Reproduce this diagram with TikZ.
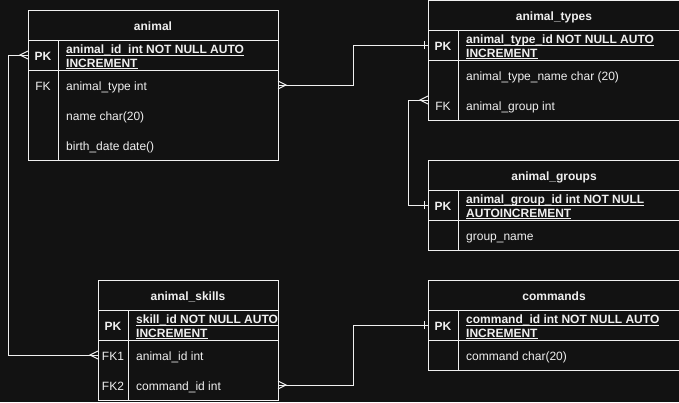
\documentclass[tikz,border=0pt,12pt]{standalone}
\usepackage{fontspec}
\setmainfont{Liberation Sans}
\usetikzlibrary{positioning}
\definecolor{bgcol}{HTML}{121212}
\definecolor{inkcol}{HTML}{F0F0F0}
\newcommand{\ulkey}[1]{\setbox0\hbox{#1}\rlap{\rule[-1.6pt]{\wd0}{0.7pt}}\box0}

\tikzset{
  tbox/.style={draw=inkcol, line width=1pt, fill=bgcol, minimum height=30pt,
    inner sep=0pt, outer sep=0pt},
  hdr/.style={tbox, text=inkcol, font=\bfseries, text height=11pt, text depth=0pt},
  row/.style={minimum height=30pt, inner sep=0pt, outer sep=0pt},
  keytxt/.style={text=inkcol, inner sep=0pt, text height=11pt, text depth=0pt},
  pktxt/.style={text=inkcol, font=\bfseries\fontsize{12}{13.4}\selectfont,
    align=left, anchor=west, inner sep=0pt, yshift=-2pt},
  fieldtxt/.style={text=inkcol, anchor=west, inner sep=0pt, text height=11pt, text depth=0pt},
  rel/.style={draw=inkcol, line width=1pt},
  crowfoot/.pic={\draw[rel] (0,-4) -- (8,0) -- (0,4);},
  onebar/.pic={\draw[rel] (4,-4) -- (4,4);},
}

\begin{document}
\begin{tikzpicture}[x=1pt, y=-1pt]
\fill[bgcol] (0,0) rectangle (679,402);
\useasboundingbox (0,0) rectangle (679,402);

% animal
\node[hdr, minimum width=250pt, anchor=north west] (animal) at (28,10) {animal};
\node[tbox, minimum width=250pt, below=0pt of animal] (animal-pk) {};
\node[tbox, minimum width=250pt, minimum height=90pt, below=0pt of animal-pk] (animal-body) {};
\node[row, minimum width=250pt, anchor=north] (animal-type) at (animal-body.north) {};
\node[row, minimum width=250pt, below=0pt of animal-type] (animal-name) {};
\node[row, minimum width=250pt, below=0pt of animal-name] (animal-birth) {};
\draw[rel] ([xshift=30pt]animal-pk.north west) -- ([xshift=30pt]animal-body.south west);
\node[keytxt, font=\bfseries] (animal-pk-k) at ([xshift=15pt]animal-pk.west) {PK};
\node[pktxt] (animal-pk-f) at ([xshift=38pt]animal-pk.west)
  {\ulkey{animal\_id\ \ int NOT NULL AUTO}\\\ulkey{INCREMENT}};
\node[keytxt] (animal-type-k) at ([xshift=15pt]animal-type.west) {FK};
\node[fieldtxt] (animal-type-f) at ([xshift=38pt]animal-type.west) {animal\_type int};
\node[fieldtxt] (animal-name-f) at ([xshift=38pt]animal-name.west) {name char(20)};
\node[fieldtxt] (animal-birth-f) at ([xshift=38pt]animal-birth.west) {birth\_date date()};

% animal_types
\node[hdr, minimum width=252pt, anchor=north west] (types) at (428,0) {animal\_types};
\node[tbox, minimum width=252pt, below=0pt of types] (types-pk) {};
\node[tbox, minimum width=252pt, minimum height=60pt, below=0pt of types-pk] (types-body) {};
\node[row, minimum width=252pt, anchor=north] (types-name) at (types-body.north) {};
\node[row, minimum width=252pt, below=0pt of types-name] (types-group) {};
\draw[rel] ([xshift=30pt]types-pk.north west) -- ([xshift=30pt]types-body.south west);
\node[keytxt, font=\bfseries] (types-pk-k) at ([xshift=15pt]types-pk.west) {PK};
\node[pktxt] (types-pk-f) at ([xshift=38pt]types-pk.west)
  {\ulkey{animal\_type\_id NOT NULL AUTO}\\\ulkey{INCREMENT}};
\node[fieldtxt] (types-name-f) at ([xshift=38pt]types-name.west) {animal\_type\_name char (20)};
\node[keytxt] (types-group-k) at ([xshift=15pt]types-group.west) {FK};
\node[fieldtxt] (types-group-f) at ([xshift=38pt]types-group.west) {animal\_group int};

% animal_groups
\node[hdr, minimum width=252pt, anchor=north west] (groups) at (428,160) {animal\_groups};
\node[tbox, minimum width=252pt, below=0pt of groups] (groups-pk) {};
\node[tbox, minimum width=252pt, below=0pt of groups-pk] (groups-name) {};
\draw[rel] ([xshift=30pt]groups-pk.north west) -- ([xshift=30pt]groups-name.south west);
\node[keytxt, font=\bfseries] (groups-pk-k) at ([xshift=15pt]groups-pk.west) {PK};
\node[pktxt] (groups-pk-f) at ([xshift=38pt]groups-pk.west)
  {\ulkey{animal\_group\_id int NOT NULL}\\\ulkey{AUTOINCREMENT}};
\node[fieldtxt] (groups-name-f) at ([xshift=38pt]groups-name.west) {group\_name};

% animal_skills
\node[hdr, minimum width=180pt, anchor=north west] (skills) at (98,280) {animal\_skills};
\node[tbox, minimum width=180pt, below=0pt of skills] (skills-pk) {};
\node[tbox, minimum width=180pt, minimum height=60pt, below=0pt of skills-pk] (skills-body) {};
\node[row, minimum width=180pt, anchor=north] (skills-fk1) at (skills-body.north) {};
\node[row, minimum width=180pt, below=0pt of skills-fk1] (skills-fk2) {};
\draw[rel] ([xshift=30pt]skills-pk.north west) -- ([xshift=30pt]skills-body.south west);
\node[keytxt, font=\bfseries] (skills-pk-k) at ([xshift=15pt]skills-pk.west) {PK};
\node[pktxt] (skills-pk-f) at ([xshift=38pt]skills-pk.west)
  {\ulkey{skill\_id NOT NULL AUTO}\\\ulkey{INCREMENT}};
\node[keytxt] (skills-fk1-k) at ([xshift=15pt]skills-fk1.west) {FK1};
\node[fieldtxt] (skills-fk1-f) at ([xshift=38pt]skills-fk1.west) {animal\_id int};
\node[keytxt] (skills-fk2-k) at ([xshift=15pt]skills-fk2.west) {FK2};
\node[fieldtxt] (skills-fk2-f) at ([xshift=38pt]skills-fk2.west) {command\_id int};

% commands
\node[hdr, minimum width=252pt, anchor=north west] (commands) at (428,280) {commands};
\node[tbox, minimum width=252pt, below=0pt of commands] (commands-pk) {};
\node[tbox, minimum width=252pt, below=0pt of commands-pk] (commands-name) {};
\draw[rel] ([xshift=30pt]commands-pk.north west) -- ([xshift=30pt]commands-name.south west);
\node[keytxt, font=\bfseries] (commands-pk-k) at ([xshift=15pt]commands-pk.west) {PK};
\node[pktxt] (commands-pk-f) at ([xshift=38pt]commands-pk.west)
  {\ulkey{command\_id int NOT NULL AUTO}\\\ulkey{INCREMENT}};
\node[fieldtxt] (commands-name-f) at ([xshift=38pt]commands-name.west) {command char(20)};

% relations
\coordinate (types-group-end) at ([yshift=5pt]types-group.west);
\draw[rel] (animal-type.east) -- ++(75,0) |- (types-pk.west);
\draw[rel] (types-group-end) -- ++(-20,0) |- (groups-pk.west);
\draw[rel] (animal-pk.west) -- ++(-20,0) |- (skills-fk1.west);
\draw[rel] (skills-fk2.east) -- ++(75,0) |- (commands-pk.west);
\pic at (animal-type.east) {crowfoot};
\pic[rotate=180] at (types-pk.west) {onebar};
\pic[rotate=180] at (types-group-end) {crowfoot};
\pic[rotate=180] at (groups-pk.west) {onebar};
\pic[rotate=180] at (animal-pk.west) {crowfoot};
\pic[rotate=180] at (skills-fk1.west) {crowfoot};
\pic at (skills-fk2.east) {crowfoot};
\pic[rotate=180] at (commands-pk.west) {onebar};
\end{tikzpicture}
\end{document}
